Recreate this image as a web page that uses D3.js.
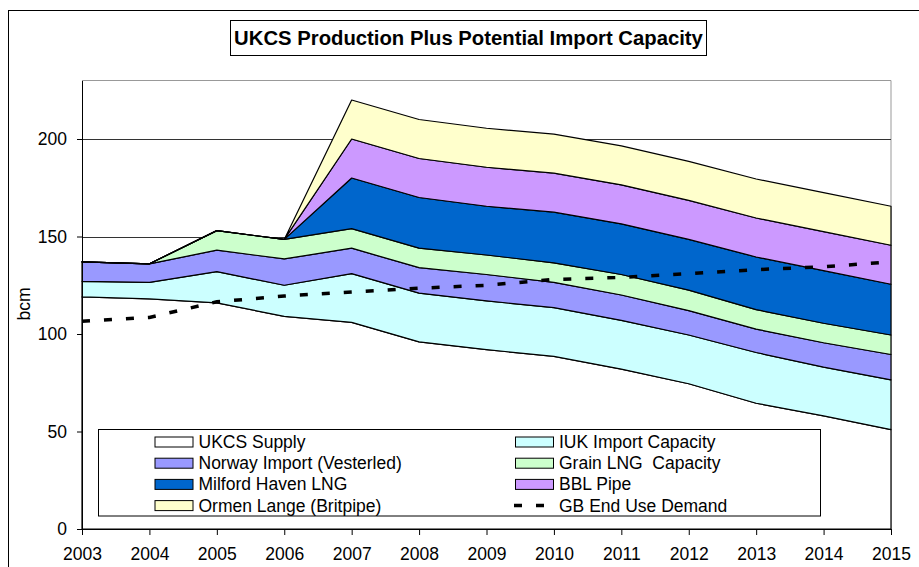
<!DOCTYPE html>
<html>
<head>
<meta charset="utf-8">
<script src="https://cdn.jsdelivr.net/npm/d3@7"></script>
<style>
  body { margin: 0; background: #fff; }
  text { font-family: "Liberation Sans", Arial, sans-serif; fill: #000; white-space: pre; }
</style>
</head>
<body>
<svg class="svg-main" width="919" height="567"></svg>
<script>
const years = [2003, 2004, 2005, 2006, 2007, 2008, 2009, 2010, 2011, 2012, 2013, 2014, 2015];

// stacked layers, bcm per year
const ukcsSupply  = [119, 118, 116, 109, 106, 96, 92, 88.5, 82, 74.5, 64.5, 58, 51];
const iukImport   = [8, 8.5, 16, 16, 25, 25, 25, 25, 25, 25, 26, 25, 25.5];
const norwayImport = [10, 9.5, 11, 13.5, 13, 13, 13.5, 13, 13, 12.5, 12, 12.5, 13];
const grainLng    = [0, 0, 10, 10, 10, 10, 10, 10, 10.5, 10.5, 10, 10, 10];
const milfordLng  = [0, 0, 0, 0, 26, 26, 25, 26, 26, 26, 27, 27, 26];
const bblPipe     = [0, 0, 0, 0, 20, 20, 20, 20, 20, 20, 20, 20, 20];
const ormenLange  = [0, 0, 0, 0, 20, 20, 20, 20, 20, 20, 20, 20, 20];

const gbDemand = [106.5, 108.5, 116.5, 119.5, 121.5, 123.5, 125, 128, 129, 131, 133, 134.5, 137];

const yTicks = [0, 50, 100, 150, 200];

const series = [
  {key: "ukcs",    name: "UKCS Supply",               values: ukcsSupply,   color: "#ffffff"},
  {key: "iuk",     name: "IUK Import Capacity",       values: iukImport,    color: "#ccffff"},
  {key: "norway",  name: "Norway Import (Vesterled)", values: norwayImport, color: "#9999ff"},
  {key: "grain",   name: "Grain LNG  Capacity",       values: grainLng,     color: "#ccffcc"},
  {key: "milford", name: "Milford Haven LNG",         values: milfordLng,   color: "#0066cc"},
  {key: "bbl",     name: "BBL Pipe",                  values: bblPipe,      color: "#cc99ff"},
  {key: "ormen",   name: "Ormen Lange (Britpipe)",    values: ormenLange,   color: "#ffffcc"}
];

const svg = d3.select('.svg-main');

const plot = {left: 82, right: 891, top: 80.5, bottom: 529};

const x = d3.scalePoint()
  .domain(years)
  .range([plot.left, plot.right]);

const y = d3.scaleLinear()
  .domain([0, 230])
  .range([plot.bottom, plot.top]);

// outer chart border (runs off the picture on right and bottom)
svg.append("rect")
  .attr("x", 8.5).attr("y", 10.5)
  .attr("width", 960).attr("height", 600)
  .attr("fill", "none")
  .attr("stroke", "#000");

// plot area frame: grey top/right
svg.append("path")
  .attr("d", `M${plot.left},${plot.top}H${plot.right}V${plot.bottom}`)
  .attr("fill", "none")
  .attr("stroke", "#999");

// gridlines
svg.append("g")
  .selectAll("line")
  .data(yTicks.filter(d => d > 0))
  .enter().append("line")
    .attr("x1", plot.left).attr("x2", plot.right)
    .attr("y1", d => Math.round(y(d)) + 0.5)
    .attr("y2", d => Math.round(y(d)) + 0.5)
    .attr("stroke", "#333");

// stacked areas
const table = years.map((yr, i) => {
  const row = {year: yr};
  series.forEach(s => row[s.key] = s.values[i]);
  return row;
});

const stack = d3.stack().keys(series.map(s => s.key));
const layers = stack(table);

const area = d3.area()
  .x(d => x(d.data.year))
  .y0(d => y(d[0]))
  .y1(d => y(d[1]));

svg.append("g")
  .selectAll("path")
  .data(layers)
  .enter().append("path")
    .attr("d", area)
    .attr("fill", (d, i) => series[i].color)
    .attr("stroke", "#000")
    .attr("stroke-width", 1.2)
    .attr("stroke-linejoin", "round");

// demand line
const line = d3.line()
  .x((d, i) => x(years[i]))
  .y(d => y(d));

svg.append("path")
  .datum(gbDemand)
  .attr("d", line)
  .attr("fill", "none")
  .attr("stroke", "#000")
  .attr("stroke-width", 3.5)
  .attr("stroke-dasharray", "8,14");

// axes
const yAxis = svg.append("g")
  .attr("transform", `translate(${plot.left},0)`)
  .call(d3.axisLeft(y).tickValues(yTicks).tickSize(5).tickSizeOuter(0).tickPadding(10));

const xAxis = svg.append("g")
  .attr("transform", `translate(0,${plot.bottom})`)
  .call(d3.axisBottom(x).tickSize(6).tickSizeOuter(0).tickPadding(13));

[yAxis, xAxis].forEach(ax => {
  ax.selectAll("text")
    .style("font-family", '"Liberation Sans", Arial, sans-serif')
    .style("font-size", "17.5px")
    .attr("fill", "#000");
  ax.selectAll("line, path").attr("stroke", "#000");
});
xAxis.select(".domain").attr("d", `M${plot.left},0.5H${plot.right}`);

svg.append("text")
  .attr("transform", "translate(30,304) rotate(-90)")
  .attr("text-anchor", "middle")
  .style("font-size", "17.5px")
  .text("bcm");

// title
svg.append("rect")
  .attr("x", 230.5).attr("y", 20.5)
  .attr("width", 476).attr("height", 35)
  .attr("fill", "#fff")
  .attr("stroke", "#000");

svg.append("text")
  .attr("x", 468.5).attr("y", 44.5)
  .attr("text-anchor", "middle")
  .style("font-size", "20.3px")
  .style("font-weight", "bold")
  .text("UKCS Production Plus Potential Import Capacity");

// legend
const legend = svg.append("g");

legend.append("rect")
  .attr("x", 98.5).attr("y", 429.5)
  .attr("width", 722).attr("height", 86.5)
  .attr("fill", "#fff")
  .attr("stroke", "#000");

const legendItems = series.map(s => ({name: s.name, color: s.color, type: "area"}))
  .concat([{name: "GB End Use Demand", type: "line"}]);

const item = legend.selectAll("g.item")
  .data(legendItems)
  .enter().append("g")
    .attr("class", "item")
    .attr("transform", (d, i) => `translate(${i % 2 ? 515 : 154.5},${442 + Math.floor(i / 2) * 21.2})`);

item.filter(d => d.type === "area").append("rect")
  .attr("x", 0.5).attr("y", -5)
  .attr("width", 38).attr("height", 10)
  .attr("fill", d => d.color)
  .attr("stroke", "#000");

item.filter(d => d.type === "line").append("line")
  .attr("x1", -1).attr("x2", 39)
  .attr("stroke", "#000")
  .attr("stroke-width", 3.5)
  .attr("stroke-dasharray", "8,14");

item.append("text")
  .attr("x", 44)
  .attr("y", 6)
  .style("font-size", "17.5px")
  .text(d => d.name);
</script>
</body>
</html>
